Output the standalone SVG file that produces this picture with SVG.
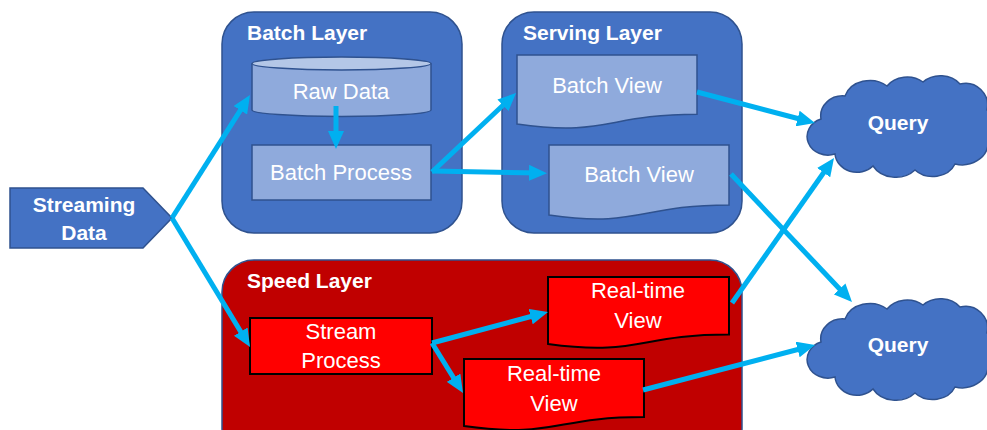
<svg xmlns="http://www.w3.org/2000/svg" width="987" height="430" viewBox="0 0 987 430">
  <defs>
    <style>
      .layer { fill: #4472C4; stroke: #2F528F; stroke-width: 1.5; }
      .speed { fill: #C00000; stroke: #2F528F; stroke-width: 1.5; }
      .box { fill: #8FAADC; stroke: #2F528F; stroke-width: 1.5; }
      .rbox { fill: #FF0000; stroke: #000000; stroke-width: 2; }
      .cloud { fill: #4472C4; stroke: #2F528F; stroke-width: 1.5; }
      .title { font-family: "Liberation Sans", Arial, sans-serif; font-size: 21px; font-weight: bold; fill: #FFFFFF; }
      .label { font-family: "Liberation Sans", Arial, sans-serif; font-size: 22px; fill: #FFFFFF; text-anchor: middle; }
      .blabel { font-family: "Liberation Sans", Arial, sans-serif; font-size: 21px; font-weight: bold; fill: #FFFFFF; text-anchor: middle; }
      .flow { fill: none; stroke: #00B0F0; stroke-width: 5; marker-end: url(#head); }
    </style>
    <marker id="head" markerUnits="userSpaceOnUse" markerWidth="18" markerHeight="16" refX="10" refY="8" orient="auto">
      <path d="M0,0 L18,8 L0,16 Z" fill="#00B0F0"/>
    </marker>
    <path id="cloudShape" d="M6,45 A22,20 0 0 1 30,22 A26,22 0 0 1 72,12 A24,20 0 0 1 108,8 A24,20 0 0 1 145,10 A22,22 0 0 1 172,36 A20,20 0 0 1 173,70 A26,22 0 0 1 140,90 A24,20 0 0 1 100,96 A26,22 0 0 1 58,92 A22,20 0 0 1 20,80 A18,16 0 0 1 6,45 Z"/>
  </defs>

  <rect width="987" height="430" fill="#FFFFFF"/>

  <!-- layer containers -->
  <g id="batch-layer">
    <rect class="layer" x="222" y="12" width="240" height="221" rx="32"/>
    <text class="title" x="247" y="40">Batch Layer</text>
  </g>
  <g id="serving-layer">
    <rect class="layer" x="502" y="12" width="240" height="221" rx="32"/>
    <text class="title" x="523" y="40">Serving Layer</text>
  </g>
  <g id="speed-layer">
    <rect class="speed" x="222" y="260" width="520" height="200" rx="32"/>
    <text class="title" x="247" y="288">Speed Layer</text>
  </g>

  <!-- input -->
  <g id="streaming-data">
    <path class="layer" d="M10,188 H143 L172,218 L143,248 H10 Z"/>
    <text class="blabel" x="84" y="212">Streaming</text>
    <text class="blabel" x="84" y="240">Data</text>
  </g>

  <!-- batch layer nodes -->
  <g id="raw-data">
    <path class="box" d="M252,63.5 V110 A89.5,6.5 0 0 0 431,110 V63.5"/>
    <ellipse cx="341.5" cy="63.5" rx="89.5" ry="6.5" fill="#B4C7E7" stroke="#2F528F" stroke-width="1.5"/>
    <text class="label" x="341" y="99">Raw Data</text>
  </g>
  <g id="batch-process">
    <rect class="box" x="252" y="145" width="179" height="55"/>
    <text class="label" x="341" y="180">Batch Process</text>
  </g>

  <!-- serving layer nodes -->
  <g id="batch-view-1">
    <path class="box" d="M517,55 H697 V114.3 C607,114.3 607,136.8 517,124 Z"/>
    <text class="label" x="607" y="93">Batch View</text>
  </g>
  <g id="batch-view-2">
    <path class="box" d="M549,145 H729 V205 C639,205 639,228 549,215 Z"/>
    <text class="label" x="639" y="182">Batch View</text>
  </g>

  <!-- speed layer nodes -->
  <g id="stream-process">
    <rect class="rbox" x="250" y="318" width="182" height="56"/>
    <text class="label" x="341" y="339">Stream</text>
    <text class="label" x="341" y="368">Process</text>
  </g>
  <g id="realtime-view-1">
    <path class="rbox" d="M548,277 H729 V334.5 C638.5,334.5 638.5,356.4 548,344 Z"/>
    <text class="label" x="638" y="298">Real-time</text>
    <text class="label" x="638" y="328">View</text>
  </g>
  <g id="realtime-view-2">
    <path class="rbox" d="M464,359 H644 V417 C554,417 554,438.7 464,426 Z"/>
    <text class="label" x="554" y="381">Real-time</text>
    <text class="label" x="554" y="411">View</text>
  </g>

  <!-- query clouds -->
  <g id="query-1">
    <use href="#cloudShape" class="cloud" transform="translate(815,74)"/>
    <text class="blabel" x="898" y="130">Query</text>
  </g>
  <g id="query-2">
    <use href="#cloudShape" class="cloud" transform="translate(815,297)"/>
    <text class="blabel" x="898" y="352">Query</text>
  </g>

  <!-- connectors -->
  <g id="connectors">
    <line class="flow" x1="172" y1="218" x2="245.7" y2="101.8"/>
    <line class="flow" x1="172" y1="218" x2="245.9" y2="340.2"/>
    <line class="flow" x1="336" y1="106" x2="336" y2="141"/>
    <line class="flow" x1="432" y1="172" x2="510.2" y2="98.5"/>
    <line class="flow" x1="432" y1="171" x2="539" y2="173"/>
    <line class="flow" x1="697" y1="92" x2="807.3" y2="121"/>
    <line class="flow" x1="731" y1="174" x2="846.5" y2="296.2"/>
    <line class="flow" x1="732" y1="303" x2="829.4" y2="164.5"/>
    <line class="flow" x1="643" y1="390" x2="807.3" y2="347"/>
    <line class="flow" x1="432" y1="343" x2="540.3" y2="314"/>
    <line class="flow" x1="432" y1="343" x2="458.8" y2="386.2"/>
  </g>
</svg>
